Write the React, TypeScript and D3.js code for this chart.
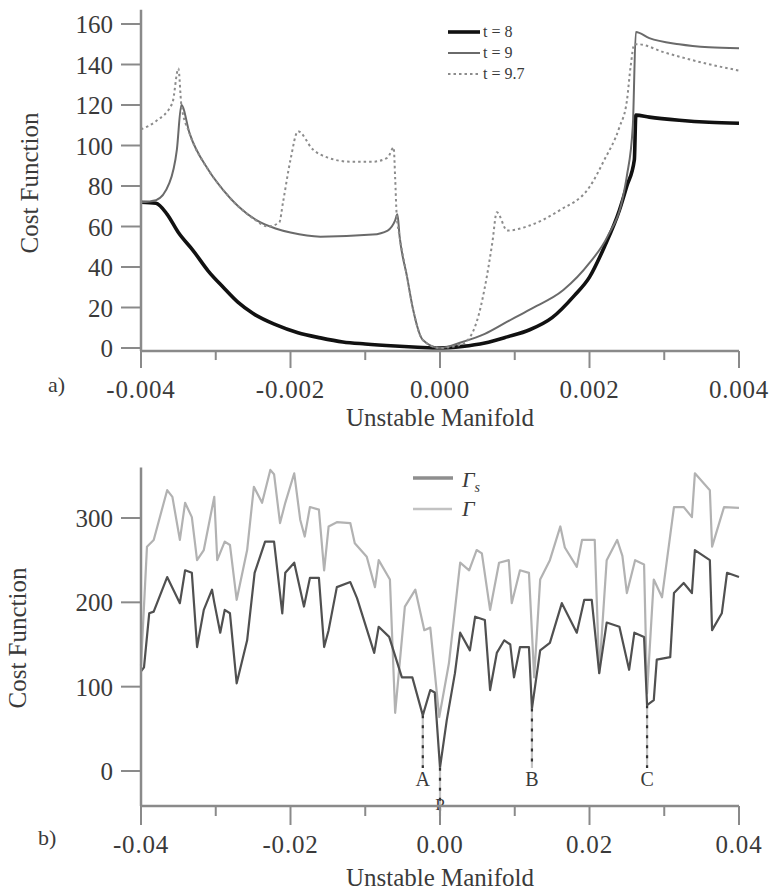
import React from "react";
import * as d3 from "d3";

// ---------- panel a) cost function along the unstable manifold, three times ----------
const t8: [number, number][] = [
  [-0.004, 72], [-0.0038, 71.5], [-0.00365, 66], [-0.0035, 57], [-0.0033, 48], [-0.0031, 38],
  [-0.0029, 30], [-0.0027, 22.5], [-0.0025, 17], [-0.0022, 11.5], [-0.0019, 7.5], [-0.0016, 5],
  [-0.0013, 3], [-0.001, 2], [-0.0006, 1], [-0.0003, 0.4], [0, 0], [0.0003, 0.8], [0.0006, 2.5],
  [0.0009, 5.5], [0.0012, 9], [0.0015, 15], [0.0018, 26], [0.002, 35], [0.0022, 50], [0.0024, 68],
  [0.0025, 80], [0.0026, 93], [0.00262, 115], [0.0028, 114], [0.0032, 112.5], [0.0036, 111.5],
  [0.004, 111],
];

const t9: [number, number][] = [
  [-0.004, 72], [-0.0038, 73], [-0.00362, 81.5], [-0.00352, 98], [-0.00346, 120], [-0.00335, 106],
  [-0.0031, 88], [-0.0029, 78], [-0.0027, 70], [-0.00245, 63], [-0.0022, 59], [-0.002, 57],
  [-0.0016, 55], [-0.0009, 56], [-0.0007, 58], [-0.0006, 63], [-0.00057, 66], [-0.00054, 55],
  [-0.00044, 35], [-0.00036, 19], [-0.00023, 4], [0, 0], [0.0003, 3], [0.0006, 7], [0.0009, 13],
  [0.0012, 19], [0.00165, 28.6], [0.002, 42], [0.00224, 55], [0.00245, 75], [0.0025, 85],
  [0.00258, 110], [0.00262, 156], [0.0028, 153], [0.0032, 150], [0.0036, 148.5], [0.004, 148],
];

const t97: [number, number][] = [
  [-0.004, 108], [-0.0038, 112], [-0.00358, 121], [-0.0035, 138], [-0.00346, 120], [-0.00335, 106],
  [-0.0031, 88], [-0.0029, 78], [-0.0027, 70], [-0.0025, 64], [-0.0023, 60], [-0.00215, 62],
  [-0.0021, 72], [-0.002, 93], [-0.0019, 107], [-0.0017, 98], [-0.0015, 94], [-0.0012, 92],
  [-0.0009, 92], [-0.0007, 94], [-0.00062, 99], [-0.0006, 84], [-0.00058, 66], [-0.00054, 55],
  [-0.00044, 35], [-0.00036, 19], [-0.00023, 4], [0, 0], [0.0003, 2], [0.0005, 14], [0.0006, 30],
  [0.0007, 52], [0.00076, 67], [0.0009, 58], [0.0012, 60.5], [0.0016, 68], [0.002, 79.5],
  [0.0022, 93], [0.0024, 109], [0.0025, 122], [0.00255, 139], [0.0026, 150], [0.00265, 150],
  [0.003, 146], [0.0035, 141], [0.004, 137],
];

const topSeriesLabels = ["t = 8", "t = 9", "t = 9.7"];
const topYTicks = [0, 20, 40, 60, 80, 100, 120, 140, 160];
const topXTicks = [-0.004, -0.002, 0, 0.002, 0.004];
const topXMinor = [-0.003, -0.001, 0.001, 0.003];
const topXLabels = ["-0.004", "-0.002", "0.000", "0.002", "0.004"];

// ---------- panel b) Gamma_s and Gamma along a longer stretch ----------
const gammaS: [number, number][] = [
  [-0.04, 118], [-0.0396, 123], [-0.0389, 187], [-0.0383, 189], [-0.0365, 230], [-0.0348, 199],
  [-0.0341, 238], [-0.0332, 235], [-0.0325, 147], [-0.0316, 191], [-0.0305, 215], [-0.0302, 200],
  [-0.0294, 164], [-0.0288, 191], [-0.0281, 187], [-0.0272, 104], [-0.0258, 155], [-0.0248, 235],
  [-0.0234, 272], [-0.0222, 272], [-0.0211, 187], [-0.0207, 235], [-0.0195, 247], [-0.0182, 195],
  [-0.0174, 229], [-0.0162, 229], [-0.0155, 147], [-0.0149, 167], [-0.0138, 218], [-0.012, 224],
  [-0.0111, 205], [-0.0088, 140], [-0.0082, 171], [-0.0068, 159], [-0.0051, 111], [-0.0037, 111],
  [-0.0023, 66], [-0.0013, 96], [-0.0007, 93], [0, 4], [0.0009, 60], [0.002, 116], [0.0027, 164],
  [0.004, 143], [0.0047, 183], [0.006, 179], [0.0067, 96], [0.0076, 140], [0.0086, 155],
  [0.0094, 150], [0.0099, 111], [0.0107, 147], [0.0119, 147], [0.0123, 74], [0.0134, 143],
  [0.0147, 152], [0.0163, 199], [0.0183, 164], [0.0193, 203], [0.0203, 203], [0.0213, 116],
  [0.0223, 176], [0.024, 171], [0.0253, 120], [0.026, 164], [0.0273, 159], [0.0277, 78],
  [0.0286, 84], [0.029, 132], [0.0308, 135], [0.0313, 211], [0.0326, 223], [0.0337, 211],
  [0.0341, 262], [0.0361, 250], [0.0364, 167], [0.0377, 187], [0.0384, 235], [0.04, 230],
];

const gamma: [number, number][] = [
  [-0.04, 125], [-0.0392, 266], [-0.0383, 274], [-0.0365, 333], [-0.0358, 325], [-0.0348, 274],
  [-0.0341, 318], [-0.0332, 301], [-0.0325, 250], [-0.0316, 262], [-0.0302, 325], [-0.0298, 250],
  [-0.0288, 272], [-0.0281, 268], [-0.0272, 203], [-0.0258, 262], [-0.0249, 337], [-0.0238, 318],
  [-0.0227, 357], [-0.0222, 352], [-0.0214, 294], [-0.0207, 318], [-0.0195, 353], [-0.0187, 298],
  [-0.0181, 278], [-0.0174, 313], [-0.0162, 310], [-0.0155, 238], [-0.0149, 290], [-0.0138, 295],
  [-0.012, 294], [-0.0114, 270], [-0.0098, 254], [-0.0087, 218], [-0.0082, 250], [-0.0067, 227],
  [-0.006, 69], [-0.0047, 195], [-0.0033, 215], [-0.0021, 167], [-0.0013, 170], [-0.0001, 64],
  [0.0012, 128], [0.0027, 247], [0.0039, 238], [0.0049, 262], [0.0056, 258], [0.0067, 191],
  [0.0079, 247], [0.0092, 250], [0.0096, 199], [0.0107, 238], [0.0119, 235], [0.0126, 111],
  [0.0134, 227], [0.0147, 250], [0.0161, 290], [0.0167, 265], [0.0183, 242], [0.019, 274],
  [0.0207, 274], [0.0213, 116], [0.0223, 250], [0.0237, 274], [0.0244, 255], [0.025, 211],
  [0.0261, 250], [0.0273, 245], [0.0277, 92], [0.0286, 227], [0.0297, 206], [0.0313, 313],
  [0.0326, 313], [0.0337, 301], [0.0341, 353], [0.0361, 333], [0.0364, 266], [0.038, 313],
  [0.04, 312],
];

// minima picked out on Gamma_s
const minimaLabels = ["A", "P", "B", "C"];
const minimaX = [-0.0023, 0, 0.0123, 0.0277];

const botYTicks = [0, 100, 200, 300];
const botXTicks = [-0.04, -0.02, 0, 0.02, 0.04];
const botXMinor = [-0.03, -0.01, 0.01, 0.03];
const botXLabels = ["-0.04", "-0.02", "0.00", "0.02", "0.04"];

const FONT = "'Liberation Serif', 'DejaVu Serif', serif";
const TEXT = "#3a3a3a";
const AXIS = "#8a8a8a";

export default function App() {
  // panel a scales
  const xA = d3.scaleLinear().domain([-0.004, 0.004]).range([141, 739]);
  const yA = d3.scaleLinear().domain([0, 160]).range([348, 24]);
  // panel b scales
  const xB = d3.scaleLinear().domain([-0.04, 0.04]).range([141, 739]);
  const yB = d3.scaleLinear().domain([0, 300]).range([771, 518]);

  const lineA = d3
    .line<[number, number]>()
    .x((d) => xA(d[0]))
    .y((d) => yA(d[1]))
    .curve(d3.curveMonotoneX);
  const lineB = d3
    .line<[number, number]>()
    .x((d) => xB(d[0]))
    .y((d) => yB(d[1]));

  const axisA = { y0: yA(-1.5), y1: yA(167) };
  const axisB = { y0: yB(-41.5), y1: yB(360) };

  const topStyles = [
    { stroke: "#111", width: 3.6, dash: undefined as string | undefined },
    { stroke: "#6a6a6a", width: 2, dash: undefined as string | undefined },
    { stroke: "#8c8c8c", width: 2, dash: "2.5,3" },
  ];
  const topData = [t8, t9, t97];

  return (
    <svg width={769} height={891} style={{ display: "block", position: "absolute", left: 0, top: 0 }}>
      <rect width={769} height={891} fill="#fff" />

      {/* ---------------- panel a ---------------- */}
      <g fontFamily={FONT} fill={TEXT}>
        {topData.map((d, i) => (
          <path
            key={i}
            d={lineA(d) || ""}
            fill="none"
            stroke={topStyles[i].stroke}
            strokeWidth={topStyles[i].width}
            strokeDasharray={topStyles[i].dash}
            strokeLinejoin="round"
          />
        ))}

        {/* axes */}
        <line x1={xA(-0.004)} x2={xA(-0.004)} y1={axisA.y0} y2={axisA.y1} stroke={AXIS} strokeWidth={2.5} />
        <line x1={xA(-0.004)} x2={xA(0.004)} y1={axisA.y0} y2={axisA.y0} stroke={AXIS} strokeWidth={2.5} />
        {topYTicks.map((t) => (
          <g key={t}>
            <line x1={121} x2={141} y1={yA(t)} y2={yA(t)} stroke={AXIS} strokeWidth={2} />
            <text x={113} y={yA(t) + 9} textAnchor="end" fontSize={25}>
              {t}
            </text>
          </g>
        ))}
        {topXTicks.map((t, i) => (
          <g key={t}>
            <line x1={xA(t)} x2={xA(t)} y1={axisA.y0} y2={axisA.y0 + 17} stroke={AXIS} strokeWidth={2} />
            <text x={xA(t)} y={398} textAnchor="middle" fontSize={25} letterSpacing={0.8}>
              {topXLabels[i]}
            </text>
          </g>
        ))}
        {topXMinor.map((t) => (
          <line key={t} x1={xA(t)} x2={xA(t)} y1={axisA.y0} y2={axisA.y0 + 9} stroke={AXIS} strokeWidth={2} />
        ))}
        <text x={440} y={426} textAnchor="middle" fontSize={25}>
          Unstable Manifold
        </text>
        <text transform="translate(38,183) rotate(-90)" textAnchor="middle" fontSize={25}>
          Cost Function
        </text>
        <text x={48} y={392} fontSize={22}>
          a)
        </text>

        {/* legend */}
        {topSeriesLabels.map((lab, i) => (
          <g key={lab}>
            <line
              x1={448}
              x2={480}
              y1={32 + i * 21}
              y2={32 + i * 21}
              stroke={topStyles[i].stroke}
              strokeWidth={topStyles[i].width}
              strokeDasharray={topStyles[i].dash}
            />
            <text x={483} y={37 + i * 21} fontSize={16}>
              {lab}
            </text>
          </g>
        ))}
      </g>

      {/* ---------------- panel b ---------------- */}
      <g fontFamily={FONT} fill={TEXT}>
        <path d={lineB(gamma) || ""} fill="none" stroke="#b2b2b2" strokeWidth={2.2} strokeLinejoin="round" />
        <path d={lineB(gammaS) || ""} fill="none" stroke="#505050" strokeWidth={2.2} strokeLinejoin="round" />

        {/* minima drop lines and labels */}
        {minimaLabels.map((lab, i) => {
          const pt = gammaS.find((d) => d[0] === minimaX[i]) as [number, number];
          const isP = lab === "P";
          const yEnd = isP ? 816 : 768;
          return (
            <g key={lab}>
              <line x1={xB(pt[0])} x2={xB(pt[0])} y1={yB(pt[1])} y2={yEnd} stroke="#c4c4c4" strokeWidth={2.2} />
              <line
                x1={xB(pt[0])}
                x2={xB(pt[0])}
                y1={yB(pt[1])}
                y2={yEnd}
                stroke="#333"
                strokeWidth={2.2}
                strokeDasharray="3,7"
              />
              <text
                x={xB(pt[0])}
                y={isP ? 810 : 786}
                textAnchor="middle"
                fontSize={isP ? 17 : 20}
              >
                {lab}
              </text>
            </g>
          );
        })}

        {/* axes */}
        <line x1={xB(-0.04)} x2={xB(-0.04)} y1={axisB.y0} y2={axisB.y1} stroke={AXIS} strokeWidth={2.5} />
        <line x1={xB(-0.04)} x2={xB(0.04)} y1={axisB.y0} y2={axisB.y0} stroke={AXIS} strokeWidth={2.5} />
        {botYTicks.map((t) => (
          <g key={t}>
            <line x1={121} x2={141} y1={yB(t)} y2={yB(t)} stroke={AXIS} strokeWidth={2} />
            <text x={113} y={yB(t) + 9} textAnchor="end" fontSize={25}>
              {t}
            </text>
          </g>
        ))}
        {botXTicks.map((t, i) => (
          <g key={t}>
            <line x1={xB(t)} x2={xB(t)} y1={axisB.y0} y2={axisB.y0 + 19} stroke={AXIS} strokeWidth={2} />
            <text x={xB(t)} y={853} textAnchor="middle" fontSize={25} letterSpacing={0.8}>
              {botXLabels[i]}
            </text>
          </g>
        ))}
        {botXMinor.map((t) => (
          <line key={t} x1={xB(t)} x2={xB(t)} y1={axisB.y0} y2={axisB.y0 + 10} stroke={AXIS} strokeWidth={2} />
        ))}
        <text x={440} y={886} textAnchor="middle" fontSize={25}>
          Unstable Manifold
        </text>
        <text transform="translate(26,638) rotate(-90)" textAnchor="middle" fontSize={25}>
          Cost Function
        </text>
        <text x={38} y={845} fontSize={22}>
          b)
        </text>

        {/* legend */}
        <line x1={413} x2={453} y1={478} y2={478} stroke="#8e8e8e" strokeWidth={3.5} />
        <text x={462} y={487} fontSize={22} fontStyle="italic">
          Γ<tspan fontSize={14} dy={5}>s</tspan>
        </text>
        <line x1={413} x2={452} y1={509} y2={509} stroke="#c2c2c2" strokeWidth={2.5} />
        <text x={462} y={516} fontSize={22} fontStyle="italic">
          Γ
        </text>
      </g>
    </svg>
  );
}
